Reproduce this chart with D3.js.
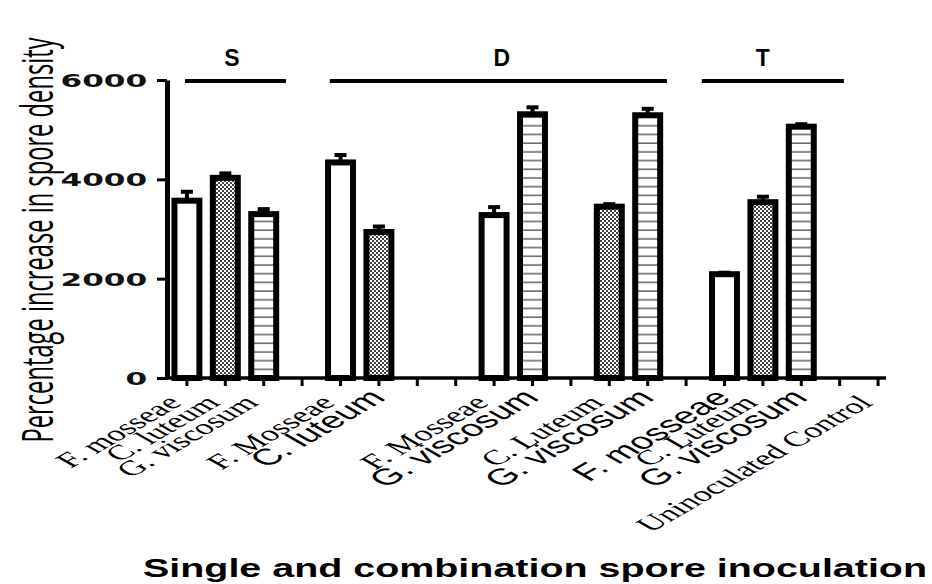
<!DOCTYPE html>
<html>
<head>
<meta charset="utf-8">
<script src="https://cdn.jsdelivr.net/npm/d3@7"></script>
<style>
  body { margin: 0; background: #fff; }
  svg { display: block; }
</style>
</head>
<body>
<svg id="chart" width="932" height="584"></svg>
<script>
// categories along the x axis (empty strings are the blank slots)
const labels = ["F. mosseae", "C. luteum", "G. viscosum", "",
    "F. Mosseae", "C. luteum", "", "",
    "F. Mosseae", "G. viscosum", "",
    "C. Luteum", "G. viscosum", "",
    "F. mosseae", "C. Luteum", "G. viscosum", "",
    "Uninoculated Control"];
// mean % increase in spore density and the upper error
const means = [3570, 4030, 3300, null, 4340, 2940, null, null, 3280, 5310, null,
    3450, 5290, null, 2090, 3540, 5060, null, 0];
const errors = [180, 90, 100, null, 150, 110, null, null, 160, 140, null,
    50, 130, null, 30, 110, 50, null, 0];
const yTicks = [0, 2000, 4000, 6000];
// bracket groups, in category units (start, end, label position)
const groupNames = ["S", "D", "T"];
const groupSpans = [[-0.05, 2.58, 1.17], [3.72, 12.5, 8.2], [13.41, 17.11, 15.0]];
// labels that were typed in a sans font in the original figure
const sansLabels = new Set([5, 9, 12, 14, 16]);

(function () {
    var svg = d3.select("#chart");
    var base = 378, top = 80, yAxisX = 167;
    var stretch = "scale(1.73,1)";  // the figure is stretched sideways

    var idx = d3.range(labels.length);
    var x = d3.scaleBand()
        .domain(idx)
        .range([161, 904])
        .padding(0.35);
    var y = d3.scaleLinear()
        .domain([0, 6000])
        .range([base, top]);
    // category units -> pixel (for the group brackets)
    var cx = d3.scaleLinear().domain([0, 1]).range([x(0) + x.bandwidth() / 2, x(1) + x.bandwidth() / 2]);

    var fillFor = d3.scaleOrdinal()
        .domain(["F", "C", "G"])
        .range(["#fff", "url(#chk)", "url(#hln)"]);

    var defs = svg.append("defs");
    var chk = defs.append("pattern").attr("id", "chk")
        .attr("patternUnits", "userSpaceOnUse").attr("width", 4).attr("height", 4);
    chk.append("rect").attr("width", 4).attr("height", 4).attr("fill", "#fff");
    chk.append("rect").attr("width", 2).attr("height", 2).attr("fill", "#444");
    chk.append("rect").attr("x", 2).attr("y", 2).attr("width", 2).attr("height", 2).attr("fill", "#444");
    var hln = defs.append("pattern").attr("id", "hln")
        .attr("patternUnits", "userSpaceOnUse").attr("width", 10).attr("height", 8.7);
    hln.append("rect").attr("width", 10).attr("height", 8.7).attr("fill", "#fff");
    hln.append("line").attr("x1", 0).attr("x2", 10).attr("y1", 4).attr("y2", 4)
        .attr("stroke", "#555").attr("stroke-width", 1.4);

    // bars
    var bars = idx.filter(i => means[i]);
    svg.append("g").selectAll("rect")
        .data(bars)
        .join("rect")
        .attr("x", i => x(i))
        .attr("y", i => y(means[i]))
        .attr("width", x.bandwidth())
        .attr("height", i => base - y(means[i]))
        .attr("fill", i => fillFor(labels[i][0]))
        .attr("stroke", "#000")
        .attr("stroke-width", 6);

    // error bars (upper only)
    var eb = svg.append("g").attr("stroke", "#000").attr("stroke-width", 4);
    eb.selectAll("line.stem").data(bars).join("line").attr("class", "stem")
        .attr("x1", i => x(i) + x.bandwidth() / 2).attr("x2", i => x(i) + x.bandwidth() / 2)
        .attr("y1", i => y(means[i]) - 2).attr("y2", i => y(means[i] + errors[i]));
    eb.selectAll("line.cap").data(bars).join("line").attr("class", "cap")
        .attr("x1", i => x(i) + x.bandwidth() / 2 - 6).attr("x2", i => x(i) + x.bandwidth() / 2 + 6)
        .attr("y1", i => y(means[i] + errors[i])).attr("y2", i => y(means[i] + errors[i]));

    // y axis
    var ya = svg.append("g")
        .attr("transform", `translate(${yAxisX},0)`)
        .call(d3.axisLeft(y).tickValues(yTicks).tickFormat(d3.format("d"))
            .tickSize(10).tickSizeOuter(0));
    ya.select(".domain").attr("stroke-width", 5);
    ya.selectAll(".tick line").attr("stroke-width", 3);
    ya.selectAll(".tick text")
        .attr("x", -11.5).attr("dy", "0.36em")
        .attr("transform", stretch)
        .attr("font-family", "DejaVu Sans").attr("font-weight", "bold")
        .attr("font-size", 18).attr("fill", "#111");

    // x axis
    var xa = svg.append("g")
        .attr("transform", `translate(0,${base})`)
        .call(d3.axisBottom(x).tickSize(8).tickSizeOuter(0).tickFormat(i => labels[i]));
    xa.select(".domain").remove();
    xa.append("line").attr("x1", yAxisX - 2).attr("x2", 886)
        .attr("stroke", "#000").attr("stroke-width", 3.5);
    xa.selectAll(".tick line").attr("stroke-width", 3);
    xa.selectAll(".tick text")
        .attr("x", 0).attr("y", 0).attr("dy", 0)
        .attr("text-anchor", "end")
        .attr("transform", i => sansLabels.has(i)
            ? "translate(8,21) " + stretch + " rotate(-45)"
            : "translate(-4,26) " + stretch + " rotate(-45)")
        .attr("font-family", i => sansLabels.has(i) ? "Liberation Sans" : "Liberation Serif")
        .attr("font-size", i => sansLabels.has(i) ? 23 : 21)
        .attr("fill", "#000");

    // group brackets
    var grp = svg.append("g").selectAll("g").data(groupNames).join("g");
    grp.append("line")
        .attr("x1", (d, k) => cx(groupSpans[k][0])).attr("x2", (d, k) => cx(groupSpans[k][1]))
        .attr("y1", top + 1).attr("y2", top + 1)
        .attr("stroke", "#000").attr("stroke-width", 4);
    grp.append("text")
        .attr("x", (d, k) => cx(groupSpans[k][2])).attr("y", 66)
        .attr("text-anchor", "middle")
        .attr("font-family", "Liberation Sans").attr("font-weight", "bold").attr("font-size", 23)
        .text(d => d);

    // axis titles
    svg.append("text")
        .attr("transform", "translate(53,240) " + stretch + " rotate(-90)")
        .attr("text-anchor", "middle")
        .attr("font-family", "Open Sans").attr("font-size", 25)
        .attr("textLength", 405).attr("lengthAdjust", "spacingAndGlyphs")
        .text("Percentage increase in spore density");

    svg.append("text")
        .attr("x", 143).attr("y", 577)
        .attr("font-family", "Liberation Sans").attr("font-weight", "bold").attr("font-size", 25)
        .attr("textLength", 784).attr("lengthAdjust", "spacingAndGlyphs")
        .text("Single and combination spore inoculation");
})();
</script>
</body>
</html>
